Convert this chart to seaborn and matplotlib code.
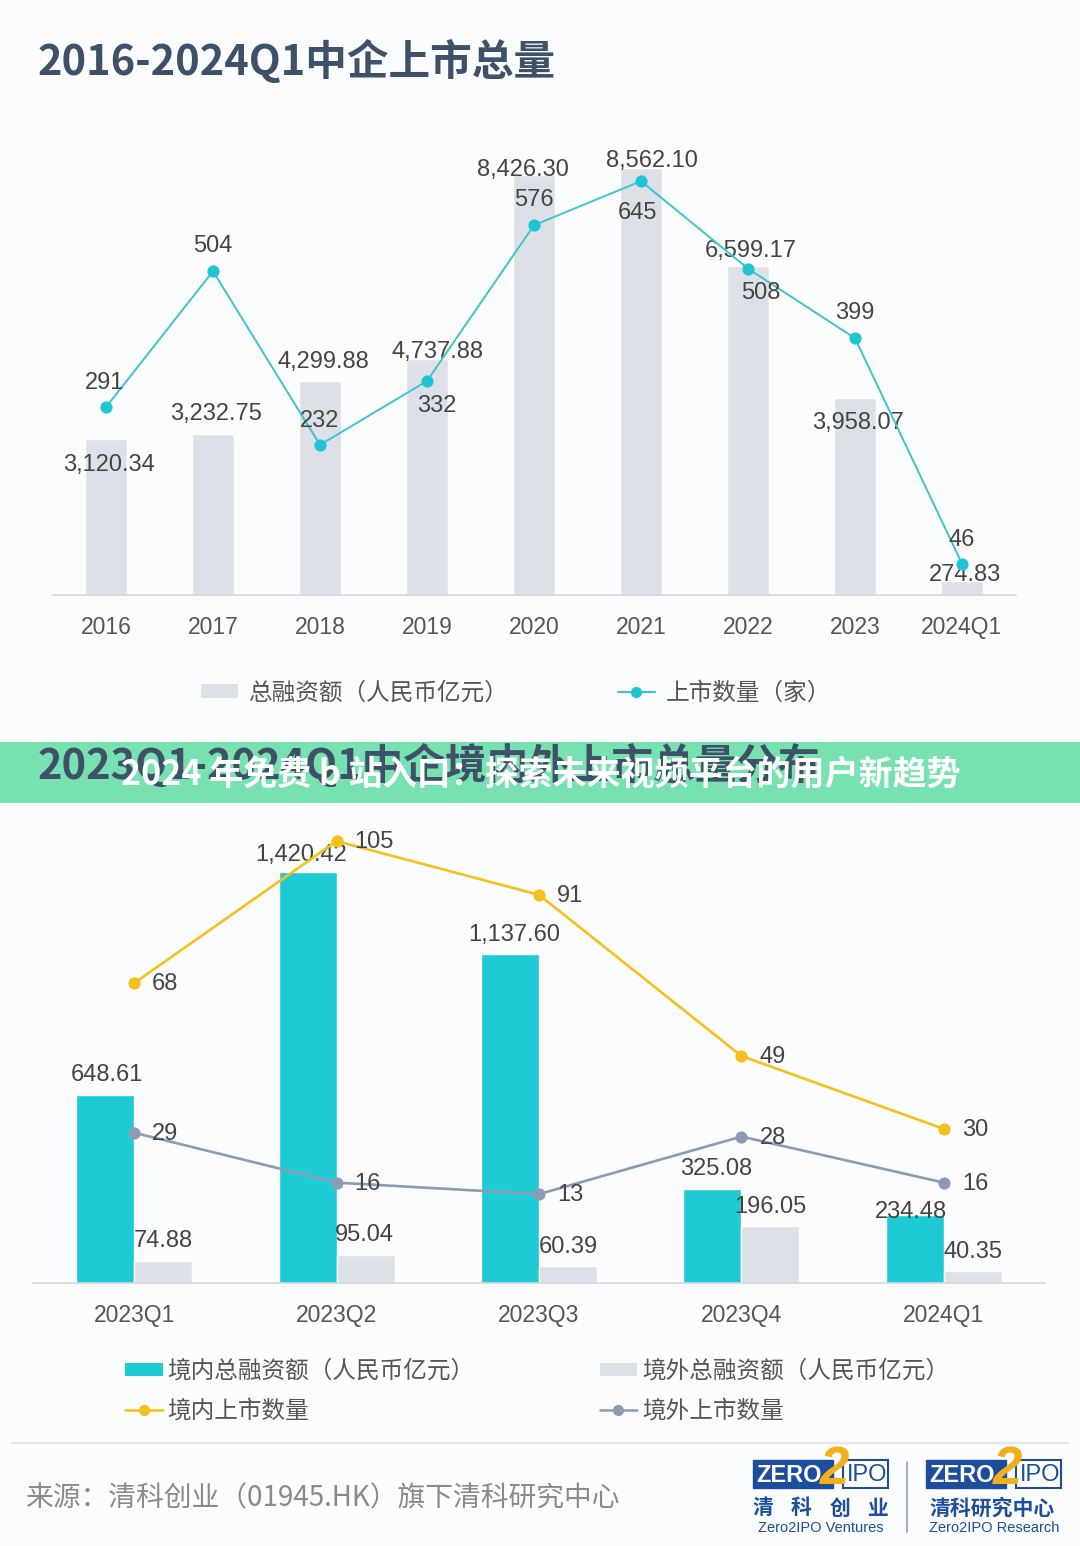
import numpy as np
import pandas as pd
import matplotlib
matplotlib.use('Agg')
import matplotlib.pyplot as plt
import seaborn as sns
from matplotlib.patches import Rectangle, Patch
from matplotlib.lines import Line2D

# --- dane ---
years = ['2016', '2017', '2018', '2019', '2020', '2021', '2022', '2023', '2024Q1']
total_fin = [3120.34, 3232.75, 4299.88, 4737.88, 8426.30, 8562.10, 6599.17, 3958.07, 274.83]
ipo_count = [291, 504, 232, 332, 576, 645, 508, 399, 46]

quarters = ['2023Q1', '2023Q2', '2023Q3', '2023Q4', '2024Q1']
dom_fin = [648.61, 1420.42, 1137.60, 325.08, 234.48]
ovs_fin = [74.88, 95.04, 60.39, 196.05, 40.35]
dom_cnt = [68, 105, 91, 49, 30]
ovs_cnt = [29, 16, 13, 28, 16]

title1 = '2016-2024Q1中企上市总量'
title2 = '2023Q1-2024Q1中企境内外上市总量分布'
banner = '2024 年免费 b 站入口：探索未来视频平台的用户新趋势'
source = '来源：清科创业（01945.HK）旗下清科研究中心'

# przesunięcia etykiet (piksele) - tylko wygląd
bar_off1 = [(3, -26), (3, 20), (3, 19), (11, 7), (-11, 5), (11, 7), (3, 15), (3, -25), (3, 6)]
cnt_off1 = [(-1, 24), (0, 25), (0, 24), (10, -25), (0, 25), (-4, -32), (13, -24), (0, 25), (0, 24)]
dom_off = [(2, 20), (-6, 17), (4, 19), (4, 20), (-4, 3)]
ovs_off = [(0, 20), (-1, 20), (0, 19), (0, 19), (0, 19)]

BG = '#fbfcfd'
TEAL = '#1ecbd5'
GRAYBAR = '#dde1e7'
YELLOW = '#f5c01a'
GRAYLINE = '#8c9bb3'
TXT = '#444444'
NUM_FONT = ['Liberation Sans', 'DejaVu Sans']
CJK_FONT = ['Noto Sans CJK SC', 'DejaVu Sans']

sns.set_theme(style='white')
plt.rcParams['font.family'] = CJK_FONT

W, H = 1080, 1546
fig = plt.figure(figsize=(W / 100, H / 100), dpi=100, facecolor=BG)


def px_rect(l, t, r, b):
    return [l / W, 1 - b / H, (r - l) / W, (b - t) / H]


def style_axes(ax):
    ax.set_facecolor('none')
    for s in ['top', 'left', 'right']:
        ax.spines[s].set_visible(False)
    ax.spines['bottom'].set_color('#d3d7dd')
    ax.spines['bottom'].set_linewidth(1.2)
    ax.set_yticks([])
    ax.set_ylabel('')
    ax.set_xlabel('')
    ax.tick_params(axis='x', length=0, pad=15, labelsize=16.5, labelcolor='#555555')
    for t in ax.get_xticklabels():
        t.set_family(NUM_FONT)


# --- wykres 1 ---
ax1 = fig.add_axes(px_rect(52.5, 100, 1015.5, 595))
sns.barplot(x=years, y=total_fin, color=GRAYBAR, width=0.39, saturation=1, ax=ax1)
ax1.set_ylim(0, 9926)
ax1b = ax1.twinx()
sns.lineplot(x=np.arange(len(years)), y=ipo_count, ax=ax1b, color='#3fc3cc', lw=1.4,
             marker='o', markersize=8, markerfacecolor='#1fc5d3', markeredgecolor='#1fc5d3')
ax1b.set_ylim(-3.1, 772.1)
ax1.set_xlim(-0.5, 8.5)
style_axes(ax1)
ax1b.axis('off')

for bar, v, (dx, dy) in zip(ax1.containers[0], total_fin, bar_off1):
    ax1.annotate(f'{v:,.2f}', (bar.get_x() + bar.get_width() / 2, bar.get_height()),
                 xytext=(dx, dy), textcoords='offset pixels', ha='center', va='center',
                 fontsize=17, color=TXT, family=NUM_FONT)
for i, (v, (dx, dy)) in enumerate(zip(ipo_count, cnt_off1)):
    ax1b.annotate(f'{v}', (i, v), xytext=(dx, dy), textcoords='offset pixels',
                  ha='center', va='center', fontsize=17, color=TXT, family=NUM_FONT)

# --- wykres 2 ---
ax2 = fig.add_axes(px_rect(33, 820, 1045, 1283))
df = pd.DataFrame({'quarter': quarters * 2,
                   'type': ['境内'] * len(quarters) + ['境外'] * len(quarters),
                   'value': dom_fin + ovs_fin})
sns.barplot(data=df, x='quarter', y='value', hue='type', palette=[TEAL, GRAYBAR],
            width=0.574, gap=0, saturation=1, legend=False, ax=ax2)
ax2.set_ylim(0, 1600)
ax2b = ax2.twinx()
xq = np.arange(len(quarters))
sns.lineplot(x=xq, y=dom_cnt, ax=ax2b, color=YELLOW, lw=1.9, marker='o', markersize=8,
             markeredgecolor=YELLOW, markerfacecolor=YELLOW)
sns.lineplot(x=xq, y=ovs_cnt, ax=ax2b, color=GRAYLINE, lw=1.9, marker='o', markersize=8,
             markeredgecolor=GRAYLINE, markerfacecolor=GRAYLINE)
ax2b.set_ylim(-10.16, 110.5)
ax2.set_xlim(-0.5, 4.5)
style_axes(ax2)
ax2b.axis('off')

for cont, vals, offs in [(ax2.containers[0], dom_fin, dom_off), (ax2.containers[1], ovs_fin, ovs_off)]:
    for bar, v, (dx, dy) in zip(cont, vals, offs):
        ax2.annotate(f'{v:,.2f}', (bar.get_x() + bar.get_width() / 2, bar.get_height()),
                     xytext=(dx, dy), textcoords='offset pixels', ha='center', va='center',
                     fontsize=17, color=TXT, family=NUM_FONT)
for vals in [dom_cnt, ovs_cnt]:
    for i, v in enumerate(vals):
        ax2b.annotate(f'{v}', (i, v), xytext=(18, -1), textcoords='offset pixels',
                      ha='left', va='center', fontsize=17, color=TXT, family=NUM_FONT)

# --- legendy ---
h1 = [Patch(facecolor=GRAYBAR, edgecolor='none'),
      Line2D([], [], color='#3fc3cc', lw=1.5, marker='o', markersize=7, markerfacecolor='#1fc5d3', markeredgecolor='#1fc5d3')]
fig.legend(h1, ['总融资额（人民币亿元）', '上市数量（家）'], loc='center',
           bbox_to_anchor=(516 / W, 1 - 693 / H), ncol=2, frameon=False,
           prop={'family': CJK_FONT, 'size': 17}, labelcolor='#555555',
           handlelength=1.6, handleheight=0.5, handletextpad=0.45, columnspacing=4.6)

h2 = [Patch(facecolor=TEAL, edgecolor='none'),
      Line2D([], [], color=YELLOW, lw=1.8, marker='o', markersize=7, markerfacecolor=YELLOW, markeredgecolor=YELLOW),
      Patch(facecolor=GRAYBAR, edgecolor='none'),
      Line2D([], [], color=GRAYLINE, lw=1.8, marker='o', markersize=7, markerfacecolor=GRAYLINE, markeredgecolor=GRAYLINE)]
fig.legend(h2, ['境内总融资额（人民币亿元）', '境内上市数量', '境外总融资额（人民币亿元）', '境外上市数量'],
           loc='center', bbox_to_anchor=(537 / W, 1 - 1391 / H), ncol=2, frameon=False,
           prop={'family': CJK_FONT, 'size': 17}, labelcolor='#555555',
           handlelength=1.6, handleheight=0.5, handletextpad=0.2, columnspacing=5.3, labelspacing=0.7)

# --- nakładka: tytuły, baner, stopka ---
ov = fig.add_axes([0, 0, 1, 1], zorder=10)
ov.set_xlim(0, W)
ov.set_ylim(H, 0)
ov.axis('off')
ov.patch.set_alpha(0)

ov.text(38, 62, title1, fontsize=30, fontweight='bold', color='#3e5169', va='center', ha='left')
ov.text(38, 766, title2, fontsize=30, fontweight='bold', color='#3e5169', va='center', ha='left')
ov.add_patch(Rectangle((0, 742), W, 61, facecolor='#3fd690', alpha=0.7, edgecolor='none'))
ov.text(541, 774, banner, fontsize=24.5, fontweight='bold', color='white', va='center', ha='center')

ov.plot([12, 1068], [1443, 1443], color='#e2e5e9', lw=1.5)
ov.text(25, 1498, source, fontsize=20, color='#8a8a8a', va='center', ha='left')

BLUE = '#1d4e9e'
LOGO_Y = '#f2b11c'
for x0, cn, en in [(753, '清科创业', 'Zero2IPO Ventures'),
                   (926, '清科研究中心', 'Zero2IPO Research')]:
    ov.add_patch(Rectangle((x0, 1460), 80, 28, facecolor=BLUE, edgecolor=BLUE))
    ov.add_patch(Rectangle((x0 + 90, 1460), 45, 28, facecolor='white', edgecolor=BLUE, lw=1.5))
    ov.text(x0 + 36, 1475, 'ZERO', fontsize=17, fontweight='bold', color='white',
            ha='center', va='center', family=NUM_FONT)
    ov.text(x0 + 114, 1475, 'IPO', fontsize=17, color=BLUE, ha='center', va='center', family=NUM_FONT)
    ov.text(x0 + 82, 1470, '2', fontsize=38, fontweight='bold', fontstyle='italic', color=LOGO_Y,
            ha='center', va='center', family=NUM_FONT)
    if len(cn) == 4:
        for k, ch in enumerate(cn):
            ov.text(x0 + 10 + k * 38.5, 1508, ch, fontsize=15, fontweight='bold', color=BLUE,
                    ha='center', va='center')
    else:
        ov.text(x0 + 66, 1508, cn, fontsize=15, fontweight='bold', color=BLUE, ha='center', va='center')
    ov.text(x0 + 68, 1528, en, fontsize=10.5, color=BLUE, ha='center', va='center', family=NUM_FONT)
ov.plot([907, 907], [1462, 1532], color='#9aa3ad', lw=1.2)

fig.savefig('out.png', dpi=100, facecolor=BG)
